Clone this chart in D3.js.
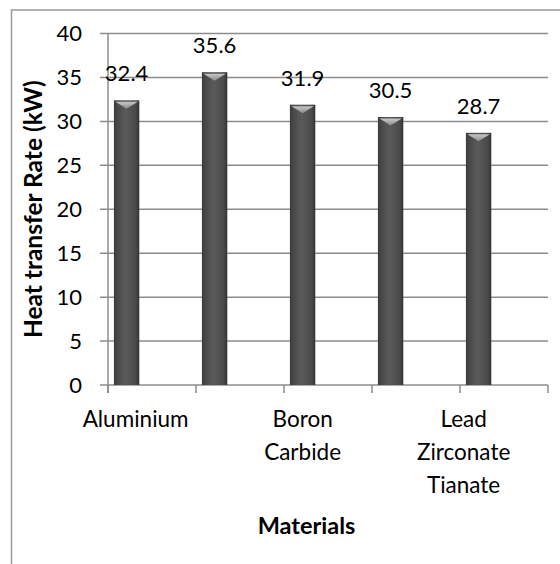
<!DOCTYPE html>
<html><head><meta charset="utf-8">
<script src="https://cdn.jsdelivr.net/npm/d3@7"></script>
<style>html,body{margin:0;padding:0;background:#fff;}svg{display:block;}</style>
</head><body>
<svg id="c" width="560" height="564"></svg>
<script>
const categories = ["Aluminium", "", "Boron Carbide", "", "Lead Zirconate Tianate"];
const categoryLines = [["Aluminium"], [], ["Boron", "Carbide"], [], ["Lead", "Zirconate", "Tianate"]];
const values = [32.4, 35.6, 31.9, 30.5, 28.7];
const yTicks = [0, 5, 10, 15, 20, 25, 30, 35, 40];
const seriesSlots = ["Heat transfer Rate", "slot2", "slot3"];
const yTitle = "Heat transfer Rate (kW)";
const xTitle = "Materials";

const svg = d3.select("#c");
const font = "Lato, 'Open Sans', sans-serif";
const frame = {x: 11.5, y: 10, w: 590, h: 600};
const m = {left: 108, right: 548, top: 33.5, bottom: 385};

svg.append("rect").attr("x", frame.x).attr("y", frame.y).attr("width", frame.w).attr("height", frame.h)
  .attr("fill", "#fff").attr("stroke", "#9a9a9a").attr("stroke-width", 1.5);

const x = d3.scaleBand().domain(d3.range(categories.length)).range([m.left, m.right]).paddingInner(0).paddingOuter(0);
const xs = d3.scaleBand().domain(seriesSlots).range([0, x.bandwidth()]).paddingInner(0).paddingOuter(0.233);
const y = d3.scaleLinear().domain([0, 40]).range([m.bottom, m.top]);

// gridlines
svg.append("g").selectAll("line").data(yTicks).join("line")
  .attr("x1", m.left - 8).attr("x2", m.right)
  .attr("y1", d => y(d)).attr("y2", d => y(d))
  .attr("stroke", "#8c8c8c").attr("stroke-width", 1.5);

// y axis line
svg.append("line").attr("x1", m.left).attr("x2", m.left).attr("y1", m.top).attr("y2", m.bottom + 8)
  .attr("stroke", "#8c8c8c").attr("stroke-width", 1.5);
// x axis ticks
const xTickPos = d3.range(categories.length + 1).map(i => i < categories.length ? x(i) : m.right);
svg.append("g").selectAll("line").data(xTickPos).join("line")
  .attr("x1", d => d).attr("x2", d => d).attr("y1", m.bottom).attr("y2", m.bottom + 8)
  .attr("stroke", "#8c8c8c").attr("stroke-width", 1.5);

// y tick labels
svg.append("g").selectAll("text").data(yTicks).join("text")
  .attr("x", m.left - 26).attr("y", d => y(d)).attr("dy", "0.36em")
  .attr("text-anchor", "end").attr("font-family", font).attr("font-size", 22).attr("fill", "#000")
  .text(d => d);

// gradients
const defs = svg.append("defs");
const g1 = defs.append("linearGradient").attr("id", "barg").attr("x1", 0).attr("x2", 1).attr("y1", 0).attr("y2", 0);
[[0, "#3a3a3a"], [0.12, "#474747"], [0.45, "#5a5a5a"], [0.85, "#4a4a4a"], [1, "#333"]]
  .forEach(([o, c]) => g1.append("stop").attr("offset", o).attr("stop-color", c));
const g2 = defs.append("linearGradient").attr("id", "topg").attr("x1", 0).attr("x2", 0).attr("y1", 0).attr("y2", 1);
[[0, "#c8c8c8"], [1, "#8a8a8a"]].forEach(([o, c]) => g2.append("stop").attr("offset", o).attr("stop-color", c));

const bx = i => x(i) + xs(seriesSlots[0]);
const bw = xs.bandwidth();

const bars = svg.append("g").selectAll("g").data(values).join("g");
bars.append("rect")
  .attr("x", (d, i) => bx(i)).attr("y", d => y(d))
  .attr("width", bw).attr("height", d => y(0) - y(d))
  .attr("fill", "url(#barg)");
bars.append("path")
  .attr("d", (d, i) => {
    const l = bx(i) + 1.5, r = bx(i) + bw - 1.5, t = y(d) + 1.5;
    return `M${l},${t}L${r},${t}L${(l + r) / 2},${t + 7}Z`;
  })
  .attr("fill", "url(#topg)");

// data labels
svg.append("g").selectAll("text").data(values).join("text")
  .attr("x", (d, i) => bx(i) + bw / 2).attr("y", d => y(d) - 27).attr("dy", "0.36em")
  .attr("text-anchor", "middle").attr("font-family", font).attr("font-size", 22).attr("fill", "#000")
  .text(d => d.toFixed(1));

// category labels
const cl = svg.append("g").selectAll("text").data(categoryLines).join("text")
  .attr("text-anchor", "middle").attr("font-family", font).attr("font-size", 22.5).attr("fill", "#000");
cl.each(function(lines, i) {
  const cx = bx(i) + bw / 2 + (i === 0 ? 9 : i === 4 ? -15 : 0);
  d3.select(this).selectAll("tspan").data(lines).join("tspan")
    .attr("x", cx).attr("y", (d, j) => m.bottom + 34 + j * 33).attr("dy", "0.36em").text(d => d);
});

// axis titles
svg.append("text").attr("transform", `translate(33,${(m.top + m.bottom) / 2}) rotate(-90)`)
  .attr("text-anchor", "middle").attr("dy", "0.36em").attr("font-family", font).attr("font-weight", "bold")
  .attr("font-size", 24.5).attr("fill", "#000").text(yTitle);
svg.append("text").attr("x", frame.x + frame.w / 2).attr("y", 526).attr("dy", "0.36em")
  .attr("text-anchor", "middle").attr("font-family", font).attr("font-weight", "bold")
  .attr("font-size", 23.5).attr("fill", "#000").text(xTitle);
</script>
</body></html>
